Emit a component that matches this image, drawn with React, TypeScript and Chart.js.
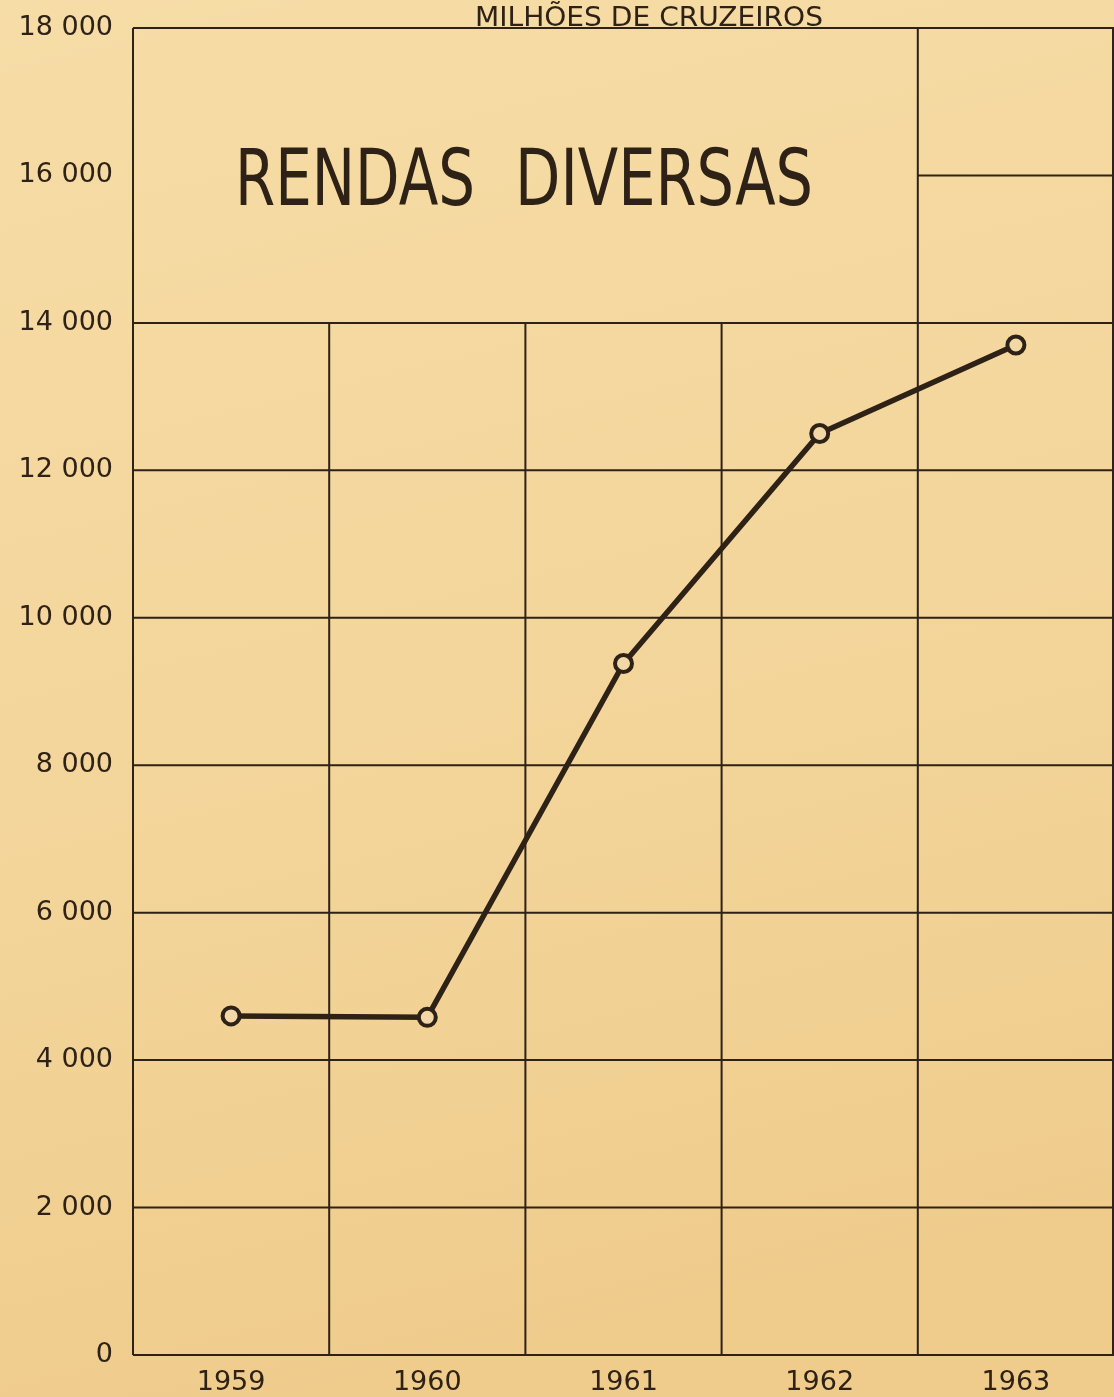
import React, { useEffect, useRef } from "react";
import { Chart, registerables } from "chart.js";

Chart.register(...registerables);

const years = ["1959", "1960", "1961", "1962", "1963"];
const rendas = [4600, 4580, 9380, 12500, 13700];
const yTicks = [0, 2000, 4000, 6000, 8000, 10000, 12000, 14000, 16000, 18000];
const chartTitle = "RENDAS DIVERSAS";
const unitLabel = "MILHÕES DE CRUZEIROS";

const INK = "#2e2116";
const PAPER = "#f3d69c";

const fmt = (v: number) => {
  const s = String(v);
  return s.length > 3 ? s.slice(0, -3) + " " + s.slice(-3) : s;
};

const paperPlugin = {
  id: "paper",
  beforeDraw(chart: any) {
    const { ctx, width, height } = chart;
    const g = ctx.createLinearGradient(0, 0, width * 0.3, height);
    g.addColorStop(0, "#f6dca6");
    g.addColorStop(0.6, "#f3d59a");
    g.addColorStop(1, "#efcc8c");
    ctx.save();
    ctx.fillStyle = g;
    ctx.fillRect(0, 0, width, height);
    ctx.restore();
  },
  beforeDatasetsDraw(chart: any) {
    const { ctx, chartArea } = chart;
    const xs = chart.scales.x;
    const ys = chart.scales.y;
    const L = chartArea.left;
    const R = chartArea.right;
    const yTop = ys.getPixelForValue(18000);
    const y14 = ys.getPixelForValue(14000);
    const y16 = ys.getPixelForValue(16000);
    const y0 = ys.getPixelForValue(0);
    const boundary = (i: number) =>
      (xs.getPixelForValue(i) + xs.getPixelForValue(i + 1)) / 2;
    ctx.save();
    ctx.strokeStyle = INK;
    ctx.lineWidth = 2;
    ctx.beginPath();
    for (const v of yTicks) {
      if (v > 14000) continue;
      const y = ys.getPixelForValue(v);
      ctx.moveTo(L, y);
      ctx.lineTo(R, y);
    }
    ctx.moveTo(L, yTop);
    ctx.lineTo(R, yTop);
    const b3 = boundary(3);
    ctx.moveTo(b3, y16);
    ctx.lineTo(R, y16);
    ctx.moveTo(L, yTop);
    ctx.lineTo(L, y0);
    ctx.moveTo(R - 1, yTop);
    ctx.lineTo(R - 1, y0);
    for (let i = 0; i < 3; i++) {
      const b = boundary(i);
      ctx.moveTo(b, y14);
      ctx.lineTo(b, y0);
    }
    ctx.moveTo(b3, yTop);
    ctx.lineTo(b3, y0);
    ctx.stroke();

    ctx.fillStyle = INK;
    ctx.textBaseline = "alphabetic";
    ctx.textAlign = "left";
    const drawFit = (txt: string, font: string, x: number, y: number, w: number) => {
      ctx.font = font;
      const m = ctx.measureText(txt).width;
      ctx.save();
      ctx.translate(x, y);
      ctx.scale(w / m, 1);
      ctx.fillText(txt, 0, 0);
      ctx.restore();
    };
    const [w1, w2] = chartTitle.split(" ");
    drawFit(w1, "78px 'DejaVu Sans'", 235, 205, 240);
    drawFit(w2, "78px 'DejaVu Sans'", 515, 205, 298);
    drawFit(unitLabel, "27px 'DejaVu Sans'", 475, 26, 348);
    ctx.restore();
  },
};

export default function App() {
  const ref = useRef<HTMLCanvasElement | null>(null);
  useEffect(() => {
    document.body.style.margin = "0";
    document.body.style.background = PAPER;
    if (!ref.current) return;
    const chart = new Chart(ref.current, {
      type: "line",
      data: {
        labels: years,
        datasets: [
          {
            data: rendas,
            borderColor: INK,
            borderWidth: 5.5,
            pointRadius: 8.5,
            pointBorderWidth: 4,
            pointBackgroundColor: "#f1d8a6",
            pointBorderColor: INK,
            tension: 0,
          },
        ],
      },
      plugins: [paperPlugin],
      options: {
        animation: false,
        responsive: false,
        maintainAspectRatio: false,
        layout: { autoPadding: false, padding: { top: 28, right: 0, bottom: 0, left: 0 } },
        plugins: { legend: { display: false }, tooltip: { enabled: false } },
        scales: {
          x: {
            type: "category",
            offset: true,
            grid: { display: false, drawTicks: false },
            border: { display: false },
            ticks: {
              color: INK,
              font: { family: "'DejaVu Sans'", size: 27 },
              padding: 12,
              maxRotation: 0,
            },
            afterFit: (s: any) => {
              s.height = 42;
              s.paddingLeft = 0;
              s.paddingRight = 0;
            },
          },
          y: {
            min: 0,
            max: 18000,
            afterBuildTicks: (s: any) => {
              s.ticks = yTicks.map((v) => ({ value: v }));
            },
            grid: { display: false, drawTicks: false },
            border: { display: false },
            ticks: {
              color: INK,
              font: { family: "'DejaVu Sans'", size: 27 },
              padding: 20,
              callback: (v: any) => fmt(Number(v)),
            },
            afterFit: (s: any) => {
              s.width = 133;
              s.paddingTop = 0;
              s.paddingBottom = 0;
            },
          },
        },
      },
    });
    return () => chart.destroy();
  }, []);
  return (
    <div style={{ width: 1114, height: 1397 }}>
      <canvas ref={ref} width={1114} height={1397} style={{ display: "block" }} />
    </div>
  );
}
